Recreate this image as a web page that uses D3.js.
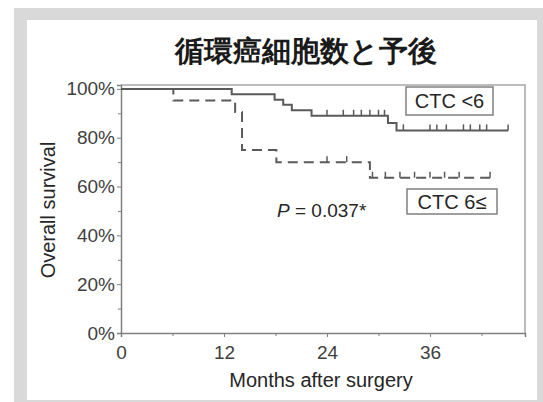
<!DOCTYPE html>
<html>
<head>
<meta charset="utf-8">
<script src="https://cdn.jsdelivr.net/npm/d3@7"></script>
<style>
  body { margin: 0; background: #fff; }
  text { font-family: "Liberation Sans", Arial, sans-serif; }
</style>
</head>
<body>
<svg id="chart" width="543" height="402"></svg>
<script>
// ---- data ----
const xTicks = [0, 12, 24, 36]
const xMinor = [6, 18, 30, 42]
const yTicks = [0, 0.2, 0.4, 0.6, 0.8, 1.0]
const yMinor = [0.1, 0.3, 0.5, 0.7, 0.9]

// CTC <6 (solid)
const lowTimes = [0, 12.9, 17.9, 18.9, 19.9, 22.2, 31.1, 32.1]
const lowSurv = [1, 0.978, 0.956, 0.935, 0.913, 0.89, 0.86, 0.83]
const lowEnd = 45.1
const lowCensor = [24.0, 25.9, 27.1, 28.0, 29.0, 30.0, 30.7, 32.9, 36.0, 36.8, 37.9, 39.9, 40.7, 41.8, 42.6, 45.1]

// CTC 6≤ (dashed)
const highTimes = [0, 6.1, 13.3, 14.1, 18.1, 29.0]
const highSurv = [1, 0.952, 0.905, 0.75, 0.70, 0.636]
const highEnd = 43.0
const highCensor = [24.0, 26.3, 29.3, 30.8, 32.5, 34.2, 36.0, 37.7, 39.4, 43.0]

const svg = d3.select('#chart')

// frame
svg.append('rect').attr('x', 14).attr('y', 8).attr('width', 529).attr('height', 394).attr('fill', '#d9d9d9')
svg.append('rect').attr('x', 27).attr('y', 20).attr('width', 510).attr('height', 380).attr('fill', '#fff')

const x = d3.scaleLinear().domain([0, 47.07]).range([121, 525])
const y = d3.scaleLinear().domain([0, 1.016]).range([333, 85])

// plot box (top/right)
svg.append('path')
  .attr('d', `M${x(0)},${y(1.016)}H${x(47.07)}V${y(0)}`)
  .attr('fill', 'none').attr('stroke', '#a6a6a6').attr('stroke-width', 1.5)

// axes
const yAxis = svg.append('g').attr('transform', `translate(${x(0)},0)`)
  .call(d3.axisLeft(y).tickValues(yTicks).tickSize(4).tickPadding(2).tickFormat(d3.format('.0%')))
const yAxisMinor = svg.append('g').attr('transform', `translate(${x(0)},0)`)
  .call(d3.axisLeft(y).tickValues(yMinor).tickSize(3).tickFormat(''))
const xAxis = svg.append('g').attr('transform', `translate(0,${y(0)})`)
  .call(d3.axisBottom(x).tickValues(xTicks).tickSize(4).tickPadding(9))
const xAxisMinor = svg.append('g').attr('transform', `translate(0,${y(0)})`)
  .call(d3.axisBottom(x).tickValues(xMinor).tickSize(3).tickFormat(''))

;[yAxis, yAxisMinor, xAxis, xAxisMinor].forEach(g => {
  g.select('.domain').attr('stroke', '#808080').attr('stroke-width', 1.5)
  g.selectAll('.tick line').attr('stroke', '#808080')
  g.selectAll('text').attr('font-size', 19).attr('fill', '#404040')
    .attr('font-family', '"Liberation Sans", Arial, sans-serif')
})
yAxisMinor.select('.domain').remove()
xAxisMinor.select('.domain').remove()

// survival curves
const line = d3.line().x(d => x(d[0])).y(d => y(d[1])).curve(d3.curveStepAfter)

function stepAt(times, surv, t) {
  let s = surv[0]
  times.forEach((tt, i) => { if (tt <= t) s = surv[i] })
  return s
}

const groups = [
  { times: lowTimes, surv: lowSurv, end: lowEnd, censor: lowCensor, dash: null },
  { times: highTimes, surv: highSurv, end: highEnd, censor: highCensor, dash: '10,6' }
]

groups.forEach(g => {
  const pts = g.times.map((t, i) => [t, g.surv[i]])
  pts.push([g.end, g.surv[g.surv.length - 1]])
  svg.append('path')
    .attr('d', line(pts))
    .attr('fill', 'none')
    .attr('stroke', '#5a5a5a')
    .attr('stroke-width', 2)
    .attr('stroke-dasharray', g.dash)

  svg.append('g').selectAll('line')
    .data(g.censor)
    .join('line')
    .attr('x1', d => x(d)).attr('x2', d => x(d))
    .attr('y1', d => y(stepAt(g.times, g.surv, d)))
    .attr('y2', d => y(stepAt(g.times, g.surv, d)) - 6)
    .attr('stroke', '#5a5a5a')
    .attr('stroke-width', 1.5)
})

// title
svg.append('text')
  .attr('x', 306).attr('y', 61)
  .attr('text-anchor', 'middle')
  .attr('font-family', '"Noto Sans CJK JP", sans-serif')
  .attr('font-weight', 'bold')
  .attr('font-size', 29)
  .attr('fill', '#1a1a1a')
  .text('循環癌細胞数と予後')

// axis titles
svg.append('text')
  .attr('transform', 'translate(55,210) rotate(-90)')
  .attr('text-anchor', 'middle')
  .attr('font-size', 20)
  .attr('fill', '#262626')
  .text('Overall survival')

svg.append('text')
  .attr('x', 321).attr('y', 387)
  .attr('text-anchor', 'middle')
  .attr('font-size', 20)
  .attr('fill', '#262626')
  .text('Months after surgery')

// legend boxes
const legend = [
  { label: 'CTC <6', x0: 406, y0: 87, w: 87, h: 28 },
  { label: 'CTC 6≤', x0: 407, y0: 189, w: 90, h: 25 }
]
legend.forEach(l => {
  svg.append('rect')
    .attr('x', l.x0).attr('y', l.y0).attr('width', l.w).attr('height', l.h)
    .attr('fill', '#fff').attr('stroke', '#808080').attr('stroke-width', 1.5)
  svg.append('text')
    .attr('x', l.x0 + l.w / 2).attr('y', l.y0 + l.h / 2 + 7)
    .attr('text-anchor', 'middle')
    .attr('font-size', 20)
    .attr('fill', '#262626')
    .text(l.label)
})

// p value
const p = svg.append('text')
  .attr('x', 277).attr('y', 217)
  .attr('font-size', 19)
  .attr('fill', '#262626')
p.append('tspan').attr('font-style', 'italic').text('P')
p.append('tspan').text(' = 0.037*')
</script>
</body>
</html>
